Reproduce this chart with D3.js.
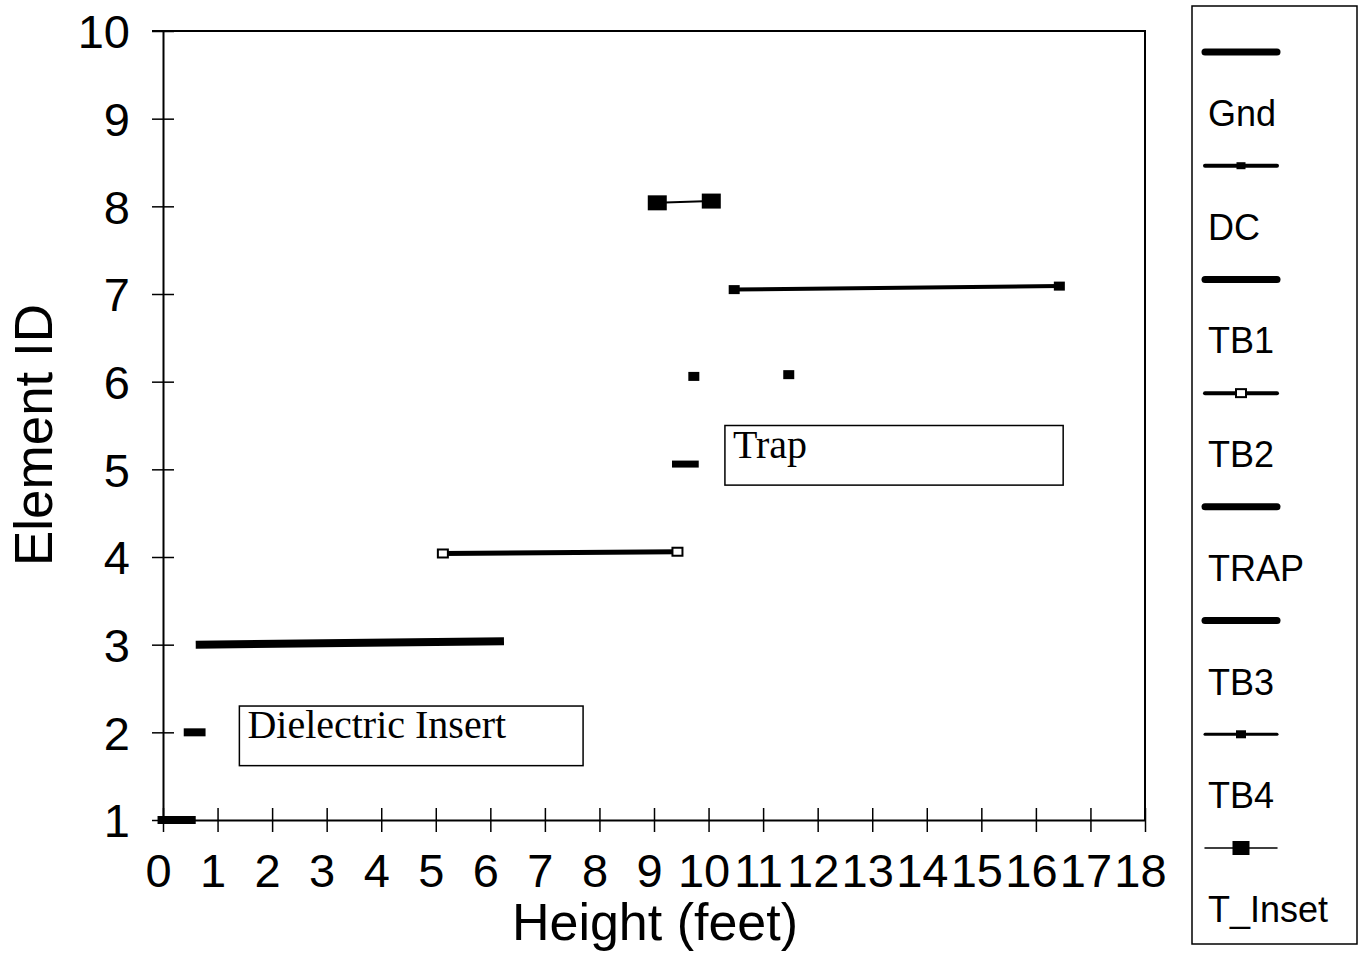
<!DOCTYPE html>
<html><head><meta charset="utf-8">
<script src="https://cdn.jsdelivr.net/npm/d3@7"></script>
<style>body{margin:0;background:#fff}svg{display:block}</style>
</head><body>
<svg id="c" width="1363" height="953"></svg>
<script>
// ---- data ----
const seriesNames = ["Gnd","DC","TB1","TB2","TRAP","TB3","TB4","T_Inset"];
const gndPts   = [[-0.1,1.0],[0.6,1.0]];
const dcPts    = [[0.38,2.0],[0.78,2.0]];
const tb1Pts   = [[0.6,3.0],[6.25,3.04]];
const tb2Pts   = [[5.13,4.04],[9.43,4.06]];
const trapPts  = [[9.33,5.06],[9.82,5.06]];
const tb3Pts   = [[9.73,6.06],[11.47,6.08]];
const tb4Pts   = [[10.47,7.05],[16.43,7.09]];
const tInsetPts= [[9.06,8.04],[10.05,8.06]];
const xTicks = d3.range(0,19);
const yTicks = d3.range(1,11);
const notes = [
  {text:"Dielectric Insert", x0:1.4, x1:7.7, y0:2.3, y1:1.62},
  {text:"Trap", x0:10.3, x1:16.5, y0:5.5, y1:4.82}
];

// ---- layout ----
const svg = d3.select("#c");
const x = d3.scaleLinear().domain([0,18]).range([163,1145]);
const y = d3.scaleLinear().domain([1,10]).range([820,31]);
const line = d3.line().x(d=>x(d[0])).y(d=>y(d[1]));

// frame
svg.append("path").attr("d",`M${x(0)-11},${y(10)}H${x(18)}V${y(1)}`)
  .attr("fill","none").attr("stroke","#000").attr("stroke-width",2);
// annotation boxes
notes.forEach(n=>{
  svg.append("rect").attr("x",x(n.x0)).attr("y",y(n.y0))
    .attr("width",x(n.x1)-x(n.x0)).attr("height",y(n.y1)-y(n.y0))
    .attr("fill","#fff").attr("stroke","#000").attr("stroke-width",1.5);
  svg.append("text").attr("x",x(n.x0)+8).attr("y",y(n.y0)+32)
    .attr("font-family","Liberation Serif").attr("font-size",40).text(n.text);
});

// axes
const yAxis = svg.append("g").attr("transform",`translate(${x(0)},0)`)
  .call(d3.axisLeft(y).tickValues(yTicks).tickSizeInner(11).tickSizeOuter(0).tickPadding(22));
yAxis.selectAll(".tick line").attr("x2",11).attr("x1",-11);
const xAxis = svg.append("g").attr("transform",`translate(0,${y(1)})`)
  .call(d3.axisBottom(x).tickValues(xTicks).tickSizeInner(12).tickSizeOuter(0).tickPadding(22));
xAxis.selectAll(".tick line").attr("y1",-12).attr("y2",12);
svg.selectAll(".domain").attr("stroke-width",2);
svg.selectAll(".tick line").attr("stroke-width",1.5);
svg.selectAll(".tick text").attr("font-family","Liberation Sans").attr("font-size",47).attr("fill","#000");
yAxis.selectAll(".tick text").attr("dy","0.36em");
xAxis.selectAll(".tick text").attr("dx",-5);

// axis titles
svg.append("text").attr("x",655).attr("y",940).attr("text-anchor","middle")
  .attr("font-family","Liberation Sans").attr("font-size",52).text("Height (feet)");
svg.append("text").attr("transform","translate(52,435) rotate(-90)").attr("text-anchor","middle")
  .attr("font-family","Liberation Sans").attr("font-size",53).text("Element ID");

// series
function drawLine(pts,w){svg.append("path").attr("d",line(pts)).attr("fill","none")
  .attr("stroke","#000").attr("stroke-width",w).attr("stroke-linecap","butt");}
function drawMarks(pts,w,h,fill){svg.selectAll(null).data(pts).enter().append("rect")
  .attr("x",d=>x(d[0])-w/2).attr("y",d=>y(d[1])-h/2).attr("width",w).attr("height",h)
  .attr("fill",fill).attr("stroke","#000").attr("stroke-width",fill==="#fff"?2:0);}

drawLine(gndPts,8);
drawLine(dcPts,8);
drawLine(tb1Pts,8);
drawLine(tb2Pts,5); drawMarks(tb2Pts,10,8,"#fff");
drawLine(trapPts,7);
drawMarks(tb3Pts,11,9,"#000");
drawLine(tb4Pts,4); drawMarks(tb4Pts,11,9,"#000");
drawLine(tInsetPts,2); drawMarks(tInsetPts,19,15,"#000");

// legend
svg.append("rect").attr("x",1192).attr("y",6).attr("width",165).attr("height",938)
  .attr("fill","none").attr("stroke","#000").attr("stroke-width",1.5);
const legStyle = {
  Gnd:{w:7,m:null}, DC:{w:4,m:[9,7,"#000"]}, TB1:{w:7,m:null}, TB2:{w:4,m:[10,8,"#fff"]},
  TRAP:{w:7,m:null}, TB3:{w:7,m:null}, TB4:{w:3,m:[10,8,"#000"]}, T_Inset:{w:1.5,m:[17,14,"#000"]}
};
const legY = d3.scaleLinear().domain([0,7]).range([52,848]);
seriesNames.forEach((s,i)=>{
  const st=legStyle[s], ly=legY(i);
  svg.append("line").attr("x1",1205).attr("x2",1277).attr("y1",ly).attr("y2",ly)
    .attr("stroke","#000").attr("stroke-width",st.w).attr("stroke-linecap","round");
  if(st.m) svg.append("rect").attr("x",1241-st.m[0]/2).attr("y",ly-st.m[1]/2)
    .attr("width",st.m[0]).attr("height",st.m[1]).attr("fill",st.m[2])
    .attr("stroke","#000").attr("stroke-width",st.m[2]==="#fff"?2:0);
  svg.append("text").attr("x",1208).attr("y",ly+74).attr("font-family","Liberation Sans")
    .attr("font-size",36).text(s);
});
</script>
</body></html>
